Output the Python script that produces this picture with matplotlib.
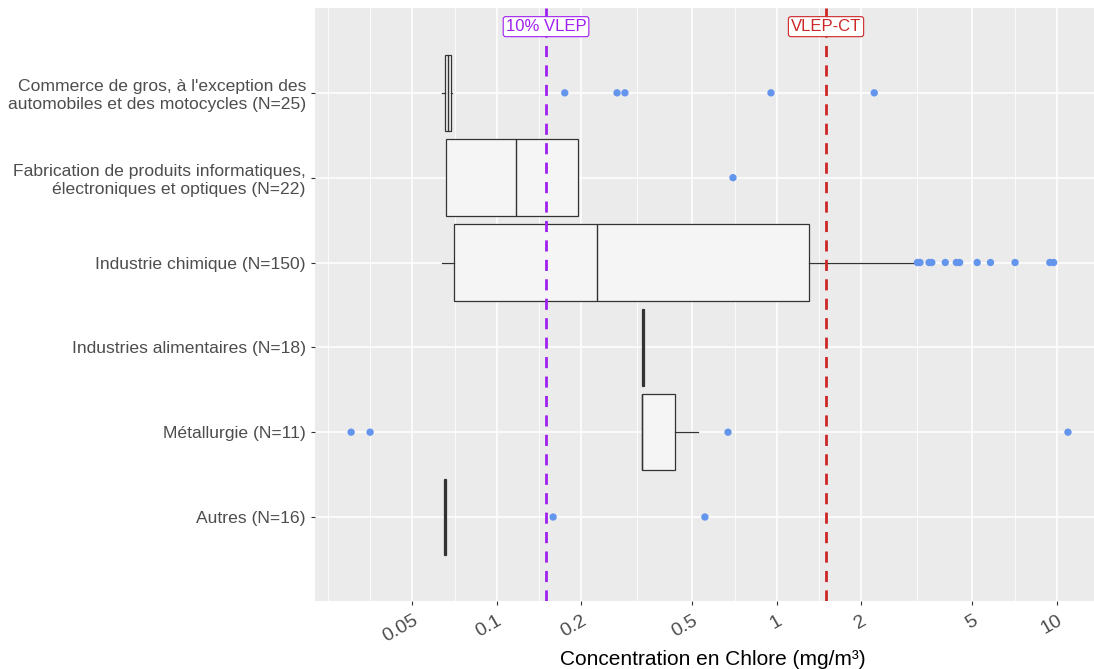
import numpy as np
import matplotlib
matplotlib.use("Agg")
from matplotlib import pyplot as plt

plt.rcParams['font.family'] = ['Liberation Sans', 'DejaVu Sans']

# categories, top to bottom
categories = [
    "Commerce de gros, à l'exception des\nautomobiles et des motocycles (N=25)",
    "Fabrication de produits informatiques,\nélectroniques et optiques (N=22)",
    "Industrie chimique (N=150)",
    "Industries alimentaires (N=18)",
    "Métallurgie (N=11)",
    "Autres (N=16)",
]

# box stats (mg/m3)
whislo = [0.0636, 0.0657, 0.0638, 0.330, 0.330, 0.0650]
q1 = [0.0655, 0.0657, 0.0704, 0.330, 0.330, 0.0650]
med = [0.0668, 0.117, 0.228, 0.333, 0.331, 0.0654]
q3 = [0.0685, 0.195, 1.30, 0.336, 0.433, 0.0658]
whishi = [0.0690, 0.195, 3.12, 0.336, 0.524, 0.0658]

outliers = [
    [0.175, 0.269, 0.287, 0.954, 2.23],
    [0.698],
    [3.18, 3.25, 3.50, 3.58, 4.0, 4.38, 4.50, 5.2, 5.8, 7.1, 9.45, 9.75],
    [],
    [0.0302, 0.0353, 0.670, 10.97],
    [0.159, 0.554],
]

vlep_10 = 0.15
vlep_ct = 1.5

xticks = [0.05, 0.1, 0.2, 0.5, 1, 2, 5, 10]
xticklabels = ["0.05", "0.1", "0.2", "0.5", "1", "2", "5", "10"]
minor_grid = [0.025, 0.0354, 0.0707, 0.1414, 0.3162, 0.7071, 1.414, 3.162, 7.071, 14.14]

fig = plt.figure(figsize=(10.94, 6.69), dpi=100)
ax = fig.add_axes([315 / 1094, 68 / 669, 795 / 1094, 593 / 669])
ax.set_facecolor('#EBEBEB')
ax.set_xscale('log')
ax.set_xlim(0.02244, 15.5)
ax.set_ylim(0.01, 7.0)

n = len(categories)
pos = np.arange(n, 0, -1)

# grid
for v in minor_grid:
    ax.axvline(v, color='white', lw=0.6, zorder=0.5)
for v in xticks:
    ax.axvline(v, color='white', lw=1.1, zorder=0.6)
for p in pos:
    ax.axhline(p, color='white', lw=1.1, zorder=0.6)

stats = []
for i in range(n):
    stats.append(dict(whislo=whislo[i], q1=q1[i], med=med[i], q3=q3[i],
                      whishi=whishi[i], fliers=[]))
ax.bxp(stats, positions=pos, orientation='horizontal', widths=0.9,
       patch_artist=True, showcaps=False,
       boxprops=dict(facecolor='#F5F5F5', edgecolor='#333333', lw=0.9),
       medianprops=dict(color='#333333', lw=1.0),
       whiskerprops=dict(color='#333333', lw=0.9),
       manage_ticks=False, zorder=2)

for i in range(n):
    if outliers[i]:
        ax.scatter(outliers[i], [pos[i]] * len(outliers[i]), s=28,
                   color='cornflowerblue', edgecolor='none', zorder=3)

ax.axvline(vlep_10, color='#A020F0', lw=2.0, ls=(0, (4, 3)), zorder=4)
ax.axvline(vlep_ct, color='#CD2626', lw=2.0, ls=(0, (4, 3)), zorder=4)
ax.text(vlep_10, 6.78, "10% VLEP", color='#A020F0', fontsize=12,
        ha='center', va='center', zorder=5,
        bbox=dict(boxstyle='round,pad=0.15,rounding_size=0.15', fc='white', ec='#A020F0', lw=0.8))
ax.text(vlep_ct, 6.78, "VLEP-CT", color='#CD2626', fontsize=12,
        ha='center', va='center', zorder=5,
        bbox=dict(boxstyle='round,pad=0.15,rounding_size=0.15', fc='white', ec='#CD2626', lw=0.8))

ax.set_yticks(pos)
ax.set_yticklabels(categories, fontsize=12.6, color='#4D4D4D', linespacing=1.25)
ax.set_xticks(xticks)
ax.set_xticklabels(xticklabels, fontsize=14, color='#4D4D4D', rotation=30,
                   ha='right', rotation_mode='anchor')
ax.xaxis.set_minor_locator(matplotlib.ticker.NullLocator())
ax.tick_params(axis='both', length=3, color='#333333', width=0.8)
ax.tick_params(axis='x', pad=5)
ax.set_xlabel("Concentration en Chlore (mg/m³)", fontsize=15, labelpad=3)

for s in ax.spines.values():
    s.set_visible(False)

fig.savefig("out.png", dpi=100)
